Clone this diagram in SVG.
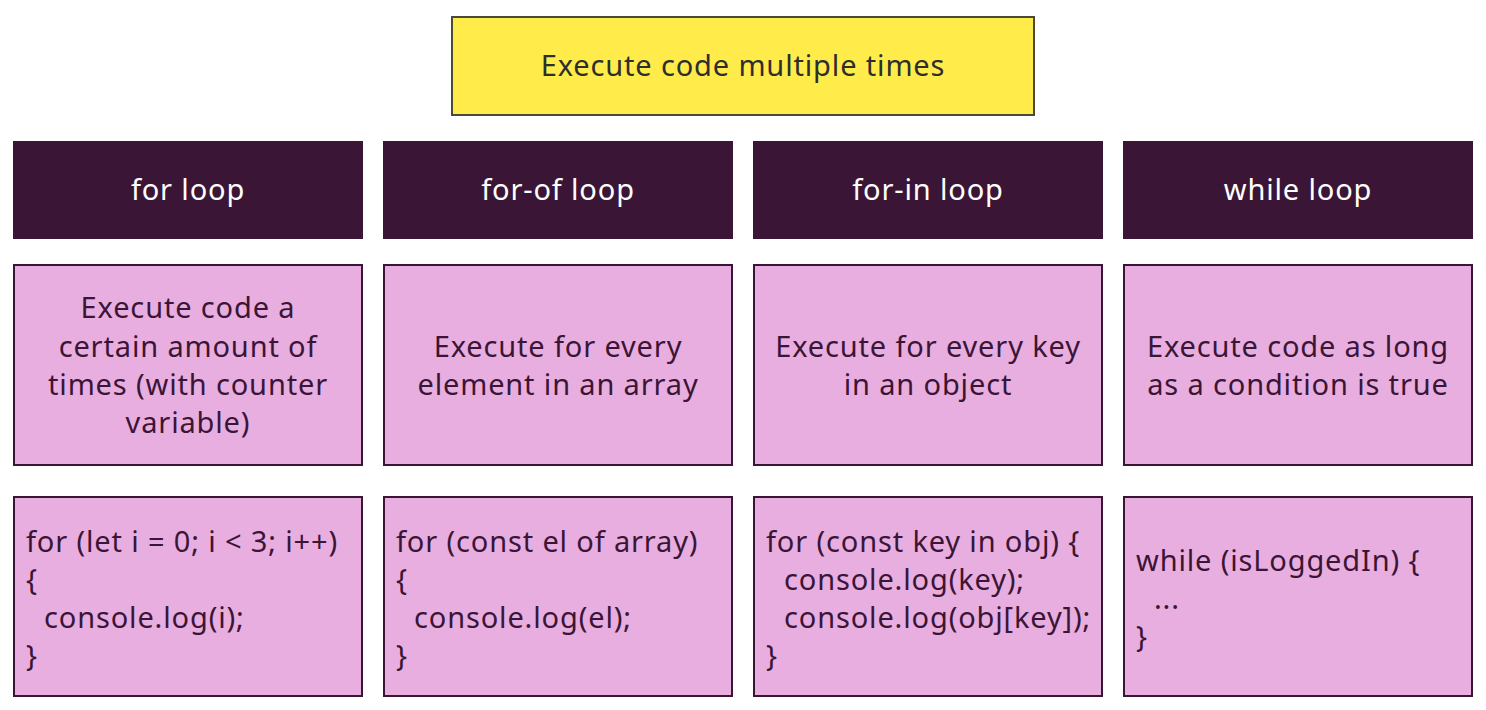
<svg xmlns="http://www.w3.org/2000/svg" width="1486" height="710" viewBox="0 0 1486 710">
  <style>
    text { font-family: "Noto Sans", "Open Sans", "Liberation Sans", sans-serif; font-size: 29px; letter-spacing: 0.85px; }
    .title-box { fill: #FFEC4A; stroke: #4A4A3A; stroke-width: 2; }
    .title { fill: #2E2E2E; text-anchor: middle; }
    .head-box { fill: #3B1535; }
    .head { fill: #FFFFFF; text-anchor: middle; }
    .card { fill: #E8AEE0; stroke: #3B1535; stroke-width: 2; }
    .desc { fill: #3B1535; text-anchor: middle; }
    .code { fill: #3B1535; }
  </style>

  <!-- top banner -->
  <g id="title">
    <rect class="title-box" x="452" y="17" width="582" height="98"/>
    <text class="title" x="743" y="76">Execute code multiple times</text>
  </g>

  <!-- column headers -->
  <g id="head-for">
    <rect class="head-box" x="13" y="141" width="350" height="98"/>
    <text class="head" x="188" y="200">for loop</text>
  </g>
  <g id="head-for-of">
    <rect class="head-box" x="383" y="141" width="350" height="98"/>
    <text class="head" x="558" y="200">for-of loop</text>
  </g>
  <g id="head-for-in">
    <rect class="head-box" x="753" y="141" width="350" height="98"/>
    <text class="head" x="928" y="200">for-in loop</text>
  </g>
  <g id="head-while">
    <rect class="head-box" x="1123" y="141" width="350" height="98"/>
    <text class="head" x="1298" y="200">while loop</text>
  </g>

  <!-- descriptions -->
  <g id="desc-for">
    <rect class="card" x="14" y="265" width="348" height="200"/>
    <text class="desc" x="188" y="318">Execute code a</text>
    <text class="desc" x="188" y="357">certain amount of</text>
    <text class="desc" x="188" y="395">times (with counter</text>
    <text class="desc" x="188" y="433">variable)</text>
  </g>
  <g id="desc-for-of">
    <rect class="card" x="384" y="265" width="348" height="200"/>
    <text class="desc" x="558" y="357">Execute for every</text>
    <text class="desc" x="558" y="395">element in an array</text>
  </g>
  <g id="desc-for-in">
    <rect class="card" x="754" y="265" width="348" height="200"/>
    <text class="desc" x="928" y="357">Execute for every key</text>
    <text class="desc" x="928" y="395">in an object</text>
  </g>
  <g id="desc-while">
    <rect class="card" x="1124" y="265" width="348" height="200"/>
    <text class="desc" x="1298" y="357">Execute code as long</text>
    <text class="desc" x="1298" y="395">as a condition is true</text>
  </g>

  <!-- code samples -->
  <g id="code-for">
    <rect class="card" x="14" y="497" width="348" height="199"/>
    <text class="code" x="26" y="552">for (let i = 0; i &lt; 3; i++)</text>
    <text class="code" x="26" y="590">{</text>
    <text class="code" x="44" y="628">console.log(i);</text>
    <text class="code" x="26" y="666">}</text>
  </g>
  <g id="code-for-of">
    <rect class="card" x="384" y="497" width="348" height="199"/>
    <text class="code" x="396" y="552">for (const el of array)</text>
    <text class="code" x="396" y="590">{</text>
    <text class="code" x="414" y="628">console.log(el);</text>
    <text class="code" x="396" y="666">}</text>
  </g>
  <g id="code-for-in">
    <rect class="card" x="754" y="497" width="348" height="199"/>
    <text class="code" x="766" y="552">for (const key in obj) {</text>
    <text class="code" x="784" y="590">console.log(key);</text>
    <text class="code" x="784" y="628">console.log(obj[key]);</text>
    <text class="code" x="766" y="666">}</text>
  </g>
  <g id="code-while">
    <rect class="card" x="1124" y="497" width="348" height="199"/>
    <text class="code" x="1136" y="571">while (isLoggedIn) {</text>
    <text class="code" x="1154" y="609">...</text>
    <text class="code" x="1136" y="647">}</text>
  </g>

  <!-- no connectors in this chart -->
  <g id="connectors"/>
</svg>
